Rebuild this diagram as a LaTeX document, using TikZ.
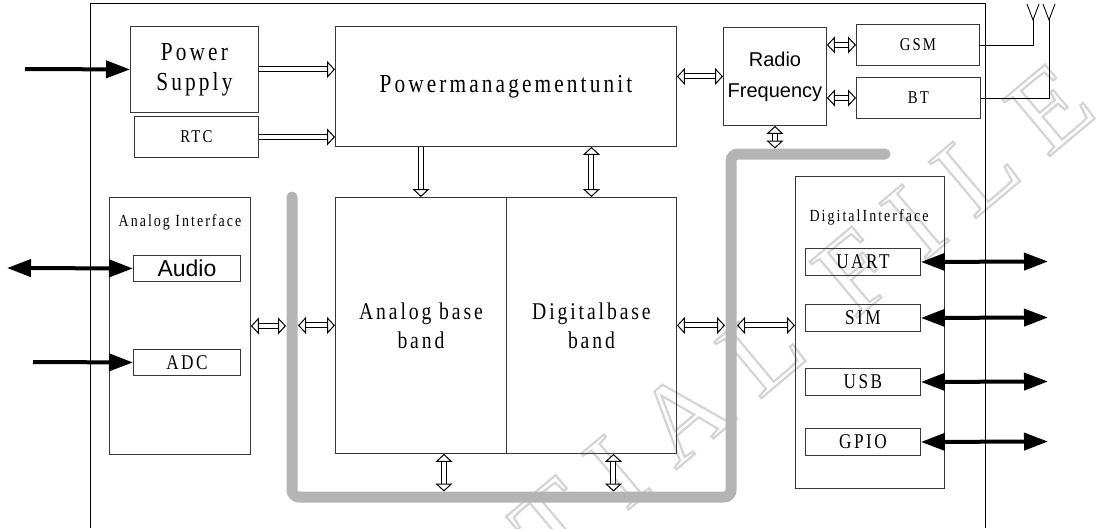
\documentclass[tikz,border=0pt]{standalone}
\usepackage{fontspec}
\setmainfont{Liberation Serif}
\newfontfamily\cnserif[FakeStretch=0.82,LetterSpace=12]{Liberation Serif}
\newfontfamily\cnsans{Liberation Sans}
\newfontfamily\wmserif[LetterSpace=25]{Liberation Serif}
\usetikzlibrary{arrows.meta,calc}
\newcommand{\txtsize}[2]{\fontsize{#1}{#2}\selectfont}
\newcommand{\outlined}[1]{\special{pdf:literal direct q 1 Tr 2.2 w}#1\special{pdf:literal direct Q}}
\definecolor{boxline}{RGB}{55,55,55}
\definecolor{busgray}{RGB}{180,180,180}
\definecolor{wmgray}{RGB}{212,212,212}
\tikzset{
  hhead/.tip={Triangle[open,fill=white,length=8pt,width=17pt,line width=1pt]},
  bhead/.tip={Triangle[length=24pt,width=17pt]},
  blk/.style={draw=boxline,line width=0.9pt,anchor=north west,inner sep=0pt,align=center},
  tbig/.style={font=\cnserif\txtsize{26}{30}},
  tband/.style={font=\cnserif\txtsize{24}{29}},
  tmid/.style={font=\cnserif\txtsize{21}{24}},
  tsmall/.style={font=\cnserif\txtsize{18}{21}},
  tlabel/.style={font=\cnserif\txtsize{17}{20},inner sep=0pt},
  hollow/.style={draw=black,line width=1pt,double=white,double distance=4pt,-hhead},
  hollow2/.style={draw=black,line width=1pt,double=white,double distance=4pt,hhead-hhead},
  barrow/.style={line width=4pt,-bhead},
  barrow2/.style={line width=4pt,bhead-bhead},
  bus/.style={draw=busgray,line width=11pt,line cap=round,rounded corners=7pt},
  wmark/.style={text=wmgray,font=\wmserif\txtsize{112}{112},inner sep=0pt},
}

\begin{document}
\begin{tikzpicture}[x=1pt,y=-1pt]
\useasboundingbox (0,0) rectangle (1105,528);

% ============ watermark, drawn first so it stays behind ============
\node[wmark,anchor=base east,rotate=40,overlay] (wm) at (1100,114) {\outlined{CONFIDENTIAL FILE}};

% outer frame, open at the bottom
\draw[line width=0.9pt] (90,528) -- (90,3) -- (985,3) -- (985,528);

% ============ power section ============
\node[blk,tbig,minimum width=128pt,minimum height=86pt] (ps) at (130,26) {Power\\Supply};
\node[blk,tsmall,minimum width=124pt,minimum height=41pt] (rtc) at (134,116) {RTC};
\node[blk,tbig,minimum width=341pt,minimum height=120pt] (pmu) at (335,26) {Powermanagementunit};
\coordinate (pin) at (25,69);
\draw[barrow] (pin) -- (ps.west);
\draw[hollow] (ps.east) -- (ps.east -| pmu.west);
\draw[hollow] (rtc.east) -- (rtc.east -| pmu.west);

% ============ radio section ============
\node[blk,font=\cnsans\txtsize{20}{31},minimum width=103pt,minimum height=98pt] (rf) at (723,27) {Radio\\Frequency};
\node[blk,tsmall,minimum width=123pt,minimum height=41pt] (gsm) at (856,24) {GSM};
\node[blk,tsmall,minimum width=124pt,minimum height=41pt] (bt) at (856,77) {BT};
\draw[hollow2] (rf.west -| pmu.east) -- (rf.west);
\draw[hollow2] (gsm.west -| rf.east) -- (gsm.west);
\draw[hollow2] (bt.west -| rf.east) -- (bt.west);
% antennas
\coordinate (ant1) at (1033,20);
\coordinate (ant2) at (1049,20);
\draw[line width=0.9pt] (gsm.east) -| (ant1);
\draw[line width=0.9pt] (bt.east) -| (ant2);
\foreach \a in {ant1,ant2}
  \draw[line width=0.9pt] ($(\a)+(-6,-16)$) -- (\a) -- ($(\a)+(6,-16)$);

% ============ gray bus ============
\coordinate (busA) at (292,197);
\coordinate (busB) at (292,497);
\coordinate (busC) at (731,497);
\coordinate (busD) at (731,154);
\coordinate (busE) at (885,154);
\draw[bus] (busA) -- (busB) -- (busC) -- (busD) -- (busE);
\draw[hollow2,shorten >=5.5pt] (rf.south) -- (rf.south |- busE);

% ============ base band ============
\node[blk,tband,minimum width=171pt,minimum height=256pt] (abb) at (335,197) {Analog base\\band};
\node[blk,tband,minimum width=170pt,minimum height=256pt] (dbb) at (506,197) {Digitalbase\\band};
\draw[hollow] (abb.north |- pmu.south) -- (abb.north);
\draw[hollow2] (dbb.north |- pmu.south) -- (dbb.north);
\coordinate (abbs) at ($(abb.south)+(23,0)$);
\coordinate (dbbs) at ($(dbb.south)+(22,0)$);
\draw[hollow2,shorten >=5.5pt] (abbs) -- (abbs |- busB);
\draw[hollow2,shorten >=5.5pt] (dbbs) -- (dbbs |- busB);

% ============ analog interface ============
\node[blk,minimum width=141pt,minimum height=257pt] (ai) at (109,197) {};
\node[tlabel] (ailab) at (180,222) {Analog Interface};
\node[blk,font=\cnsans\txtsize{23}{26},minimum width=107pt,minimum height=26pt] (audio) at (133,255) {Audio};
\node[blk,tmid,minimum width=107pt,minimum height=26pt] (adc) at (133,349) {ADC};
\coordinate (aud-out) at (7,268);
\coordinate (adc-in) at (33,362);
\draw[barrow2] (aud-out) -- (audio.west);
\draw[barrow] (adc-in) -- (adc.west);
\draw[hollow2] (ai.east) -- ($(ai.east -| busA)+(-6,0)$);
\draw[hollow2] ($(abb.west -| busA)+(6,0)$) -- (abb.west);

% ============ digital interface ============
\node[blk,minimum width=149pt,minimum height=312pt] (di) at (795,176) {};
\node[tlabel] (dilab) at (869,217) {DigitalInterface};
\draw[hollow2] (dbb.east) -- ($(dbb.east -| busC)+(-6,0)$);
\draw[hollow2] ($(dbb.east -| busC)+(6,0)$) -- (dbb.east -| di.west);
\foreach \name/\lab/\y in {uart/UART/248,sim/SIM/304,usb/USB/368,gpio/GPIO/428} {
  \node[blk,tmid,minimum width=115pt,minimum height=27pt] (\name) at (805,\y) {\lab};
  \coordinate (\name-out) at (1048,\y+13.5);
  \draw[barrow2] (\name.east) -- (\name-out);
}
\end{tikzpicture}
\end{document}
